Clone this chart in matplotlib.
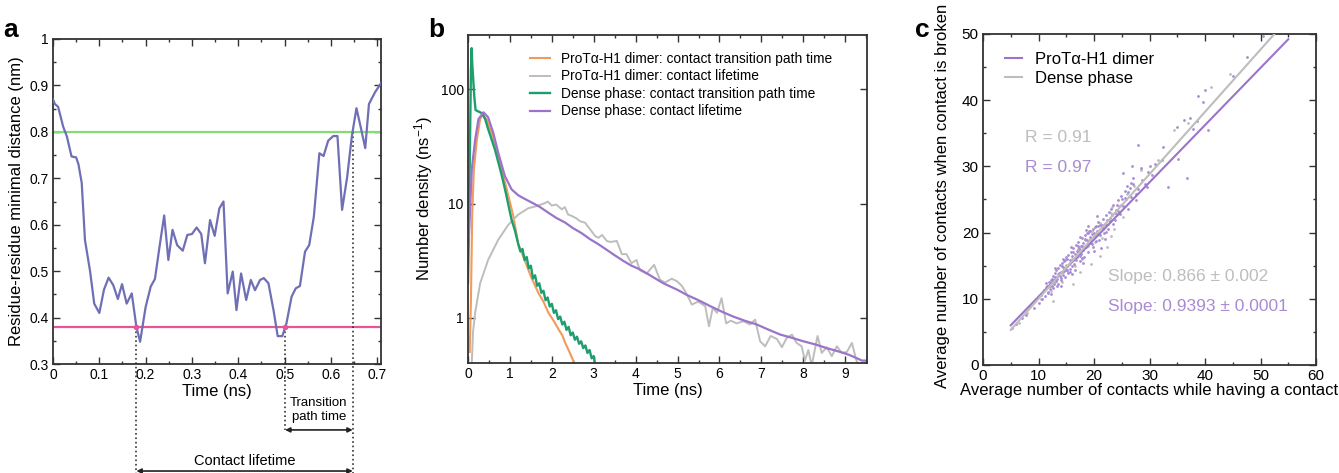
import matplotlib
matplotlib.use("Agg")
import matplotlib.pyplot as plt
import numpy as np
from matplotlib.ticker import MultipleLocator, FixedLocator, FixedFormatter, NullLocator, NullFormatter

plt.rcParams['font.family'] = ['Liberation Sans', 'DejaVu Sans']
plt.rcParams['mathtext.default'] = 'regular'

# ---------------- panel a: distance trace ----------------
time_a = [0.0, 0.004, 0.011, 0.022, 0.03, 0.04, 0.05, 0.055, 0.062, 0.069, 0.08, 0.089, 0.1, 0.11,
          0.12, 0.13, 0.14, 0.149, 0.159, 0.17, 0.18, 0.188, 0.2, 0.211, 0.22, 0.23, 0.24, 0.249,
          0.258, 0.268, 0.28, 0.29, 0.30, 0.31, 0.32, 0.328, 0.339, 0.349, 0.359, 0.368, 0.377,
          0.388, 0.396, 0.406, 0.417, 0.427, 0.436, 0.447, 0.455, 0.465, 0.476, 0.485, 0.495,
          0.504, 0.515, 0.524, 0.533, 0.544, 0.553, 0.563, 0.575, 0.584, 0.594, 0.605, 0.614,
          0.624, 0.635, 0.645, 0.655, 0.664, 0.674, 0.682, 0.695, 0.708]
dist_a = [0.87, 0.86, 0.854, 0.811, 0.79, 0.747, 0.745, 0.73, 0.69, 0.567, 0.50, 0.43, 0.41, 0.46,
          0.486, 0.47, 0.44, 0.472, 0.43, 0.452, 0.38, 0.348, 0.423, 0.467, 0.483, 0.553, 0.62, 0.524,
          0.589, 0.556, 0.544, 0.578, 0.58, 0.594, 0.58, 0.517, 0.61, 0.576, 0.635, 0.65, 0.452,
          0.499, 0.416, 0.495, 0.438, 0.481, 0.459, 0.481, 0.485, 0.474, 0.416, 0.36, 0.36,
          0.388, 0.445, 0.463, 0.468, 0.542, 0.556, 0.617, 0.754, 0.748, 0.781, 0.791, 0.791,
          0.632, 0.703, 0.79, 0.851, 0.811, 0.765, 0.86, 0.885, 0.905]
upper_cut = 0.8
lower_cut = 0.38
cross_t = [0.18, 0.501, 0.647]

# ---------------- panel b: distributions (t, density) ----------------
dimer_tpt = [(0.04, 0.5), (0.07, 1.4), (0.1, 8), (0.14, 20), (0.21, 36), (0.29, 55), (0.35, 60),
             (0.45, 54), (0.6, 38), (0.76, 23), (0.92, 13.5), (1.08, 7.8), (1.2, 4.4), (1.35, 3.2),
             (1.5, 2.3), (1.68, 1.64), (1.8, 1.38), (1.92, 1.1), (2.05, 0.93), (2.16, 0.79),
             (2.25, 0.7), (2.32, 0.6), (2.42, 0.5), (2.51, 0.42), (2.56, 0.39)]
dimer_life = [(0.09, 0.4), (0.12, 0.75), (0.17, 1.1), (0.29, 2.0), (0.48, 3.2), (0.72, 4.8),
              (0.96, 6.5), (1.2, 8.0), (1.44, 9.1), (1.64, 9.5), (1.84, 10.1), (1.9, 10.4),
              (2.0, 9.6), (2.1, 9.8), (2.24, 8.9), (2.31, 9.3), (2.39, 8.0), (2.47, 7.8),
              (2.59, 7.4), (2.67, 7.0), (2.79, 6.8), (2.95, 5.7), (3.03, 5.2), (3.11, 5.0),
              (3.2, 5.3), (3.31, 4.7), (3.4, 4.6), (3.55, 4.7), (3.67, 3.6), (3.78, 3.6),
              (3.9, 3.0), (4.02, 3.2), (4.1, 2.6), (4.26, 2.43), (4.44, 2.9), (4.58, 2.15),
              (4.7, 2.03), (4.86, 2.19), (4.98, 2.09), (5.1, 1.9), (5.2, 1.66), (5.34, 1.3),
              (5.49, 1.38), (5.66, 1.26), (5.75, 0.84), (5.84, 1.22), (5.94, 1.1), (6.05, 1.48),
              (6.16, 0.89), (6.27, 0.94), (6.41, 0.89), (6.57, 0.93), (6.73, 0.87), (6.85, 0.96),
              (6.97, 0.62), (7.09, 0.56), (7.22, 0.69), (7.37, 0.65), (7.49, 0.55), (7.6, 0.66),
              (7.73, 0.71), (7.84, 0.6), (7.96, 0.56), (8.04, 0.42), (8.12, 0.52), (8.2, 0.38),
              (8.34, 0.69), (8.44, 0.49), (8.56, 0.55), (8.68, 0.46), (8.8, 0.56), (8.92, 0.49),
              (9.04, 0.5), (9.16, 0.6), (9.26, 0.43), (9.32, 0.38)]
dense_tpt = [(0.0, 2.0), (0.02, 6), (0.05, 40), (0.07, 150), (0.088, 230), (0.1, 171), (0.15, 87),
             (0.18, 66), (0.25, 64), (0.33, 62), (0.41, 55), (0.48, 45), (0.64, 30), (0.8, 18),
             (0.9, 12.5), (1.04, 7.2), (1.12, 5.8), (1.2, 4.4), (1.25, 3.8), (1.3, 4.0), (1.35, 3.2),
             (1.4, 3.4), (1.45, 2.7), (1.5, 2.85), (1.55, 2.2), (1.6, 2.35), (1.65, 1.9), (1.7, 2.0),
             (1.75, 1.65), (1.8, 1.72), (1.85, 1.42), (1.9, 1.5), (1.95, 1.25), (2.0, 1.32),
             (2.05, 1.1), (2.1, 1.16), (2.15, 0.97), (2.2, 1.02), (2.25, 0.87), (2.3, 0.92),
             (2.35, 0.78), (2.4, 0.83), (2.45, 0.7), (2.5, 0.74), (2.55, 0.64), (2.6, 0.68),
             (2.65, 0.59), (2.7, 0.62), (2.75, 0.54), (2.8, 0.57), (2.85, 0.49), (2.9, 0.52),
             (2.95, 0.44), (3.0, 0.46), (3.03, 0.39)]
dense_life = [(0.02, 5), (0.09, 20), (0.17, 36), (0.25, 55), (0.37, 63), (0.48, 57), (0.6, 42),
              (0.72, 28), (0.88, 17.4), (1.04, 13.3), (1.2, 11.8), (1.35, 11.0), (1.52, 10.2),
              (1.7, 9.4), (1.92, 8.3), (2.1, 7.5), (2.32, 6.8), (2.5, 6.1), (2.71, 5.5), (2.9, 4.9),
              (3.11, 4.4), (3.3, 3.95), (3.51, 3.5), (3.7, 3.15), (3.9, 2.85), (4.1, 2.65),
              (4.3, 2.4), (4.66, 2.0), (5.0, 1.75), (5.22, 1.58), (5.5, 1.42), (5.78, 1.26),
              (6.05, 1.13), (6.33, 1.02), (6.6, 0.94), (6.89, 0.87), (7.15, 0.79), (7.45, 0.71),
              (7.7, 0.67), (8.0, 0.62), (8.3, 0.58), (8.56, 0.54), (8.8, 0.51), (8.96, 0.49),
              (9.1, 0.47), (9.28, 0.44), (9.4, 0.42), (9.5, 0.42)]
labels_b = ["ProT\u03b1-H1 dimer: contact transition path time",
            "ProT\u03b1-H1 dimer: contact lifetime",
            "Dense phase: contact transition path time",
            "Dense phase: contact lifetime"]

# ---------------- panel c: contacts scatter ----------------
dimer_pts = [(5.3, 5.6), (6.0, 6.2), (7.0, 7.1), (7.8, 7.6), (8.5, 8.9), (9.1, 8.6), (9.6, 9.9),
             (10.0, 9.4), (10.4, 10.6), (10.7, 10.0), (11.0, 11.3), (11.2, 10.4), (11.5, 11.9),
             (11.7, 11.1), (11.9, 12.6), (12.1, 11.5), (12.3, 12.9), (12.4, 11.9), (12.6, 13.5),
             (12.8, 12.3), (12.9, 13.9), (13.1, 12.7), (13.2, 14.3), (13.4, 13.0), (13.5, 12.2),
             (13.6, 14.6), (13.8, 13.4), (13.9, 15.1), (14.0, 12.9), (14.1, 14.0), (14.3, 15.4),
             (14.4, 13.6), (14.5, 14.8), (14.7, 13.3), (14.8, 15.8), (14.9, 14.3), (15.0, 16.3),
             (15.1, 15.0), (15.3, 13.9), (15.4, 16.6), (15.5, 15.3), (15.6, 14.5), (15.8, 17.0),
             (15.9, 15.7), (16.0, 14.9), (16.1, 16.4), (16.3, 17.6), (16.4, 15.2), (16.5, 16.8),
             (16.7, 18.1), (16.8, 15.9), (16.9, 17.2), (17.0, 16.3), (17.2, 18.6), (17.3, 17.6),
             (17.4, 15.7), (17.6, 18.0), (17.7, 16.8), (17.8, 19.2), (18.0, 17.4), (18.1, 18.5),
             (18.2, 16.3), (18.4, 19.6), (18.5, 20.4), (18.6, 17.8), (18.8, 18.9), (18.9, 20.0),
             (19.0, 17.0), (19.2, 19.3), (19.3, 20.3), (19.5, 18.4), (19.6, 19.8), (19.8, 20.5),
             (19.9, 17.9), (20.1, 19.5), (20.3, 21.0), (20.4, 18.7), (20.6, 20.2), (20.8, 21.6),
             (21.0, 19.6), (21.2, 17.6), (21.4, 20.8), (21.6, 22.1), (21.8, 19.9), (22.0, 21.3),
             (22.2, 22.7), (22.5, 20.5), (22.7, 23.1), (22.9, 21.8), (23.2, 22.6), (23.5, 24.2),
             (23.8, 21.9), (24.0, 23.4), (24.3, 24.9), (24.6, 22.8), (24.9, 25.6), (25.2, 24.0),
             (25.5, 26.3), (25.8, 25.0), (26.1, 23.6), (26.4, 26.8), (26.7, 25.4), (27.0, 27.3),
             (27.5, 24.9), (28.0, 26.6), (28.6, 28.0), (29.2, 27.3), (29.8, 29.1), (30.5, 28.7),
             (31.0, 30.3), (28.0, 33.2), (32.4, 33.0), (32.2, 31.0), (35.2, 31.1), (36.7, 28.3),
             (33.4, 26.9), (30.0, 30.0), (28.4, 29.7), (26.8, 30.0), (25.3, 29.0), (27.1, 28.2),
             (29.5, 26.9), (26.0, 27.0), (27.6, 25.9), (35.0, 36.0), (37.3, 37.3), (37.9, 35.7),
             (40.6, 35.5), (38.8, 40.6), (40.0, 41.5), (39.7, 39.8), (45.1, 43.7), (47.5, 46.6),
             (50.5, 49.7), (36.3, 37.0), (38.6, 36.8),
             (11.3, 12.4), (11.8, 10.9), (12.0, 12.0), (12.5, 13.0), (12.7, 11.7), (13.0, 13.3),
             (13.3, 12.0), (13.7, 13.9), (14.1, 13.1), (14.2, 14.9), (14.6, 14.2), (14.6, 15.7),
             (15.2, 14.4), (15.2, 16.0), (15.7, 15.9), (15.7, 14.1), (16.2, 15.8), (16.2, 17.1),
             (16.6, 16.2), (16.6, 14.4), (17.1, 17.0), (17.1, 18.0), (17.5, 16.4), (17.5, 17.3),
             (17.9, 18.0), (17.9, 16.2), (18.3, 17.9), (18.3, 19.0), (18.7, 18.3), (18.7, 19.9),
             (19.1, 18.6), (19.1, 20.2), (19.4, 19.0), (19.7, 18.3), (20.0, 20.0), (20.2, 20.9),
             (20.5, 19.8), (20.7, 21.0), (20.9, 18.9), (21.1, 21.2), (21.5, 21.2), (21.7, 20.5),
             (22.1, 20.1), (22.4, 21.9), (22.8, 22.2), (23.1, 23.6), (23.4, 21.3), (23.7, 23.0),
             (24.1, 24.2), (24.4, 23.2), (24.8, 24.2), (25.1, 25.1), (25.6, 25.3), (26.2, 26.1),
             (26.6, 27.5), (13.0, 14.7), (14.4, 16.0), (15.9, 17.8), (17.4, 19.4), (19.0, 21.0),
             (20.5, 22.5), (12.3, 10.8), (14.0, 12.0), (16.0, 13.7), (18.0, 15.4), (20.0, 17.2),
             (22.0, 19.0)]
dense_pts = [(6.5, 6.4), (8.0, 7.8), (9.3, 9.6), (10.5, 10.0), (11.4, 11.8), (12.2, 11.2),
             (12.9, 12.6), (13.6, 13.7), (14.2, 12.6), (14.9, 15.1), (15.4, 14.0), (16.0, 16.0),
             (16.6, 14.9), (17.2, 17.5), (17.9, 16.0), (18.4, 18.9), (19.0, 18.0), (19.7, 20.2),
             (20.2, 18.6), (21.0, 21.5), (21.5, 19.2), (22.3, 17.8), (23.0, 22.9), (23.6, 20.6),
             (24.5, 24.0), (25.2, 22.4), (26.0, 25.8), (27.2, 27.0), (28.5, 29.5), (31.5, 31.0),
             (34.5, 35.5), (37.0, 36.6), (41.0, 42.0), (44.5, 44.0), (12.7, 9.6), (16.2, 12.3),
             (19.5, 15.2), (13.2, 13.0), (14.5, 14.1), (15.7, 15.4), (17.0, 16.6), (18.2, 17.8),
             (19.3, 19.0), (20.6, 20.0), (21.8, 21.2), (22.6, 21.3), (23.3, 23.8), (24.2, 22.8),
             (17.5, 14.0), (21.0, 16.5), (23.0, 19.5)]
dimer_fit_x = [5, 55]
dimer_fit_y = [6.0, 49.2]
dense_fit_x = [5, 52.5]
dense_fit_y = [5.3, 50.0]

c_line = '#6f6fb6'
c_green = '#86dc74'
c_pink = '#e6559a'
c_orange = '#f29a5c'
c_gray = '#bdbdbd'
c_teal = '#1e9e6e'
c_purple = '#9b74c9'
c_purple_lt = '#a88bd3'

W, H = 1339, 473
fig = plt.figure(figsize=(W / 100, H / 100), dpi=100)


def style(ax):
    for s in ax.spines.values():
        s.set_linewidth(1.3)
        s.set_color('#333333')
    ax.tick_params(which='both', direction='in', top=True, right=True, labelsize=10,
                   color='#333333', width=1.0, pad=3)
    ax.tick_params(which='major', length=5)
    ax.tick_params(which='minor', length=2.5)


# ---------- a ----------
axa = fig.add_axes([53 / W, 1 - 364 / H, 328 / W, 325 / H])
axa.axhline(upper_cut, color=c_green, lw=1.6, zorder=2)
axa.axhline(lower_cut, color=c_pink, lw=1.6, zorder=2)
axa.plot(time_a, dist_a, color=c_line, lw=1.6, zorder=3)
axa.set_xlim(0, 0.708)
axa.set_ylim(0.3, 1.0)
axa.xaxis.set_minor_locator(MultipleLocator(0.05))
axa.yaxis.set_minor_locator(MultipleLocator(0.05))
axa.set_xticks(np.arange(0, 0.71, 0.1))
axa.set_xticklabels(['0', '0.1', '0.2', '0.3', '0.4', '0.5', '0.6', '0.7'])
axa.set_yticks(np.arange(0.3, 1.01, 0.1))
axa.set_yticklabels(['0.3', '0.4', '0.5', '0.6', '0.7', '0.8', '0.9', '1'])
style(axa)
axa.set_xlabel('Time (ns)', fontsize=12, labelpad=1)
axa.set_ylabel('Residue-residue minimal distance (nm)', fontsize=12, labelpad=4)

y_bottom = 0.05
y_tpt = 0.158
y_life = 0.0695
axa.plot(cross_t[:2], [lower_cut, lower_cut], 'o', color=c_pink, ms=3, zorder=4)
axa.plot([cross_t[0], cross_t[0]], [lower_cut, y_bottom], ':', color='#333333', lw=1.2, clip_on=False)
axa.plot([cross_t[1], cross_t[1]], [lower_cut, y_tpt], ':', color='#333333', lw=1.2, clip_on=False)
axa.plot([cross_t[2], cross_t[2]], [upper_cut, y_bottom], ':', color='#333333', lw=1.2, clip_on=False)
axa.annotate('', xy=(cross_t[2], y_tpt), xytext=(cross_t[1], y_tpt), annotation_clip=False,
             arrowprops=dict(arrowstyle='<|-|>', color='#222222', lw=1.2, mutation_scale=7,
                             shrinkA=0, shrinkB=0))
axa.annotate('', xy=(cross_t[2], y_life), xytext=(cross_t[0], y_life), annotation_clip=False,
             arrowprops=dict(arrowstyle='<|-|>', color='#222222', lw=1.2, mutation_scale=7,
                             shrinkA=0, shrinkB=0))
axa.text((cross_t[1] + cross_t[2]) / 2, 0.201, 'Transition\npath time', ha='center', va='center',
         fontsize=9.5, linespacing=1.25, clip_on=False)
axa.text((cross_t[0] + cross_t[2]) / 2, 0.091, 'Contact lifetime', ha='center', va='center',
         fontsize=10.5, clip_on=False)

# ---------- b ----------
axb = fig.add_axes([468 / W, 1 - 363 / H, 399 / W, 328 / H])
for pts, col, lw, lab in [(dimer_tpt, c_orange, 1.5, labels_b[0]),
                          (dimer_life, c_gray, 1.4, labels_b[1]),
                          (dense_tpt, c_teal, 1.7, labels_b[2]),
                          (dense_life, c_purple, 1.6, labels_b[3])]:
    arr = np.array(pts)
    axb.plot(arr[:, 0], arr[:, 1], color=col, lw=lw, label=lab)
axb.set_yscale('log')
axb.set_xlim(0, 9.52)
axb.set_ylim(0.4, 300)
axb.xaxis.set_major_locator(MultipleLocator(1))
axb.xaxis.set_minor_locator(MultipleLocator(0.5))
axb.yaxis.set_major_locator(FixedLocator([1, 10, 100]))
axb.yaxis.set_major_formatter(FixedFormatter(['1', '10', '100']))
axb.yaxis.set_minor_locator(NullLocator())
axb.yaxis.set_minor_formatter(NullFormatter())
style(axb)
axb.set_xlabel('Time (ns)', fontsize=12, labelpad=1)
axb.set_ylabel('Number density (ns$^{-1}$)', fontsize=12, labelpad=4)
axb.legend(loc='upper left', bbox_to_anchor=(0.155, 0.948), frameon=False, fontsize=9.9,
           handlelength=1.5, handletextpad=0.75, labelspacing=0.25, borderpad=0, borderaxespad=0)

# ---------- c ----------
axc = fig.add_axes([983 / W, 1 - 365 / H, 333 / W, 331 / H])
dp = np.array(dimer_pts)
gp = np.array(dense_pts)
axc.scatter(gp[:, 0], gp[:, 1], s=4, color=c_gray, linewidths=0, zorder=2)
axc.scatter(dp[:, 0], dp[:, 1], s=4, color=c_purple_lt, linewidths=0, zorder=3)
axc.plot(dimer_fit_x, dimer_fit_y, color=c_purple, lw=1.5, zorder=4, label='ProT\u03b1-H1 dimer')
axc.plot(dense_fit_x, dense_fit_y, color=c_gray, lw=1.5, zorder=4, label='Dense phase')
axc.set_xlim(0, 60)
axc.set_ylim(0, 50)
axc.xaxis.set_major_locator(MultipleLocator(10))
axc.xaxis.set_minor_locator(MultipleLocator(5))
axc.yaxis.set_major_locator(MultipleLocator(10))
axc.yaxis.set_minor_locator(MultipleLocator(5))
style(axc)
axc.tick_params(labelsize=11)
axc.set_xlabel('Average number of contacts while having a contact', fontsize=12, labelpad=0)
axc.set_ylabel('Average number of contacts when contact is broken', fontsize=12, labelpad=2)
axc.yaxis.set_label_coords(-0.098, 0.51)
axc.legend(loc='upper left', bbox_to_anchor=(0.066, 0.945), frameon=False, fontsize=12,
           handlelength=1.0, handletextpad=0.8, labelspacing=0.2, borderpad=0, borderaxespad=0)
axc.text(7.6, 34.3, 'R = 0.91', color=c_gray, fontsize=12.5, va='center')
axc.text(7.6, 29.8, 'R = 0.97', color=c_purple_lt, fontsize=12.5, va='center')
axc.text(22.5, 13.3, 'Slope: 0.866 \u00b1 0.002', color=c_gray, fontsize=12.5, va='center')
axc.text(22.5, 8.9, 'Slope: 0.9393 \u00b1 0.0001', color=c_purple_lt, fontsize=12.5, va='center')

# panel letters
for x, s in [(3, 'a'), (428, 'b'), (915, 'c')]:
    fig.text(x / W, 1 - 37 / H, s, fontsize=19, fontweight='bold', va='baseline')

fig.savefig('out.png', dpi=100)
